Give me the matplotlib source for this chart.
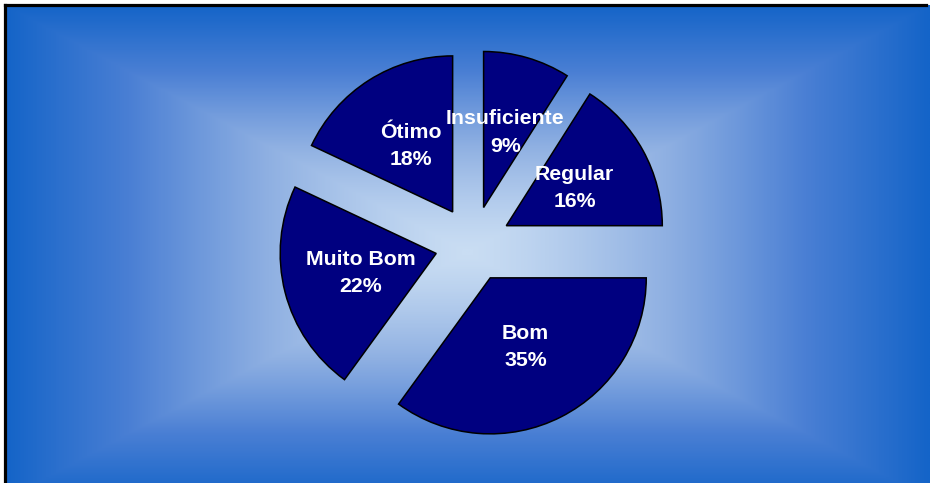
import numpy as np
import matplotlib
matplotlib.use("Agg")
import matplotlib.pyplot as plt
from matplotlib.colors import LinearSegmentedColormap

# data
categories = ["Insuficiente", "Regular", "Bom", "Muito Bom", "Ótimo"]
shares = [9, 16, 35, 22, 18]

W, H = 931, 483
fig = plt.figure(figsize=(W / 100, H / 100), dpi=100, facecolor="white")

# background: rectangular gradient, light in the middle, blue at the edges
bg = fig.add_axes([0, 0, 1, 1])
bg.set_xlim(0, W)
bg.set_ylim(H, 0)
bg.set_axis_off()
x0, x1, y0, y1 = 5, 930, 5, 500
xx, yy = np.meshgrid(np.linspace(x0, x1, 600), np.linspace(y0, H, 320))
cx, cy = (x0 + x1) / 2, (y0 + y1) / 2
t = np.maximum(np.abs(xx - cx) / ((x1 - x0) / 2), np.abs(yy - cy) / ((y1 - y0) / 2))
t = np.clip(t, 0, 1) ** 1.3
cmap = LinearSegmentedColormap.from_list("bg", ["#c9ddf3", "#8fb0e2", "#4a7fd4", "#1464c8"],)
bg.imshow(t, cmap=cmap, vmin=0, vmax=1, extent=(x0, x1, H, y0), aspect="auto",
          interpolation="bilinear")
bg.plot([4.5, 4.5], [4.5, H], color="black", lw=2.3)
bg.plot([4.5, 926], [4.5, 4.5], color="black", lw=2.3)

# pie, in pixel units (y up); explode is in data units here
ax = fig.add_axes([0, 0, 1, 1])
ax.set_axis_off()
ax.patch.set_alpha(0)
labels = [f"{c}\n{v}%" for c, v in zip(categories, shares)]
wedges, texts = ax.pie(shares, labels=labels, startangle=90, counterclock=False,
                       explode=[38] * len(shares), radius=156, center=(473, H - 244),
                       labeldistance=0.5, frame=True,
                       wedgeprops=dict(facecolor="#000080", edgecolor="black", linewidth=1.1),
                       textprops=dict(color="white", fontsize=15.3, fontweight="bold",
                                      family="Liberation Sans"))
for tx in texts:
    tx.set_ha("center")
    tx.set_va("center")
    tx.set_multialignment("center")
    tx.set_linespacing(1.55)
ax.set_xlim(0, W)
ax.set_ylim(0, H)
ax.set_aspect("equal")

fig.savefig("out.png", dpi=100, facecolor="white")
